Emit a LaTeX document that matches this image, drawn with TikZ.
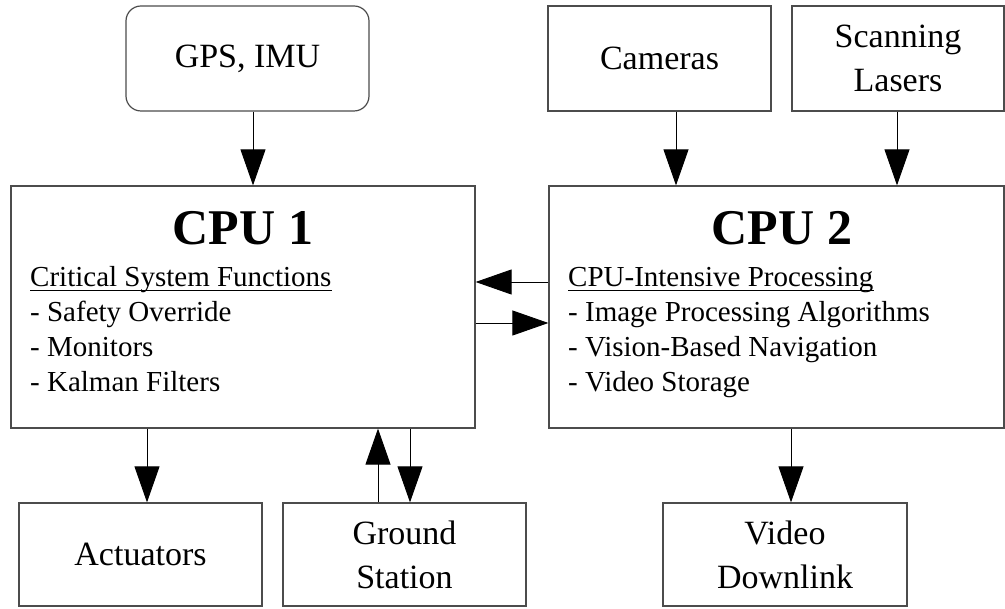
\documentclass[tikz,border=0pt]{standalone}
\usepackage{fontspec}
\setmainfont{Liberation Serif}
\usetikzlibrary{arrows.meta}
\begin{document}
\begin{tikzpicture}[x=1pt,y=-1pt,
  box/.style={draw=black!70,line width=1.2pt,inner sep=0pt,align=center,
    font=\fontsize{34}{44}\selectfont},
  txt/.style={inner sep=0pt,font=\fontsize{29}{35}\selectfont,anchor=base west},
  ttl/.style={inner sep=0pt,font=\fontsize{50}{60}\selectfont\bfseries,anchor=base},
  arr/.style={draw=black,line width=0.9pt,-{Triangle[length=36pt,width=25pt]}}]
\useasboundingbox (0,0) rectangle (1005,609);
% top row
\node[box,rounded corners=15pt,minimum width=243pt,minimum height=105pt] (gps) at (247.5,58.5) {GPS, IMU};
\node[box,minimum width=223pt,minimum height=105pt] (cam) at (659.5,58.5) {Cameras};
\node[box,minimum width=212pt,minimum height=105pt] (las) at (898,58.5) {Scanning\\Lasers};
% CPUs
\node[box,minimum width=464pt,minimum height=242pt] (cpu1) at (243,307) {};
\node[box,minimum width=455pt,minimum height=242pt] (cpu2) at (776.5,307) {};
\node[ttl] (t1) at (243,245) {CPU 1};
\node[txt] (c1h) at (30,287) {Critical System Functions};
\node[txt] (c1a) at (30,322) {- Safety Override};
\node[txt] (c1b) at (30,357) {- Monitors};
\node[txt] (c1c) at (30,392) {- Kalman Filters};
\node[ttl] (t2) at (782,245) {CPU 2};
\node[txt] (c2h) at (568,287) {CPU-Intensive Processing};
\node[txt] (c2a) at (568,322) {- Image Processing Algorithms};
\node[txt] (c2b) at (568,357) {- Vision-Based Navigation};
\node[txt] (c2c) at (568,392) {- Video Storage};
\draw[line width=0.8pt] ([yshift=-3pt]c1h.base west) -- ([yshift=-3pt]c1h.base east);
\draw[line width=0.8pt] ([yshift=-3pt]c2h.base west) -- ([yshift=-3pt]c2h.base east);
% bottom row
\node[box,minimum width=243pt,minimum height=103pt] (act) at (140.5,554.5) {Actuators};
\node[box,minimum width=243pt,minimum height=103pt] (gs) at (404.5,554.5) {Ground\\Station};
\node[box,minimum width=244pt,minimum height=103pt] (vid) at (785,554.5) {Video\\Downlink};
% connectors
\draw[arr] ([xshift=5.5pt]gps.south) -- ([xshift=5.5pt]gps.south |- cpu1.north);
\draw[arr] ([xshift=16.5pt]cam.south) -- ([xshift=16.5pt]cam.south |- cpu2.north);
\draw[arr] ([xshift=-1pt]las.south) -- ([xshift=-1pt]las.south |- cpu2.north);
\draw[arr] ([yshift=25pt]cpu2.west) -- ([yshift=25pt]cpu2.west -| cpu1.east);
\draw[arr] ([yshift=-16pt]cpu1.east) -- ([yshift=-16pt]cpu1.east -| cpu2.west);
\draw[arr] ([xshift=6.5pt]act.north |- cpu1.south) -- ([xshift=6.5pt]act.north);
\draw[arr] ([xshift=-26.5pt]gs.north) -- ([xshift=-26.5pt]gs.north |- cpu1.south);
\draw[arr] ([xshift=5.5pt]gs.north |- cpu1.south) -- ([xshift=5.5pt]gs.north);
\draw[arr] ([xshift=6pt]vid.north |- cpu2.south) -- ([xshift=6pt]vid.north);
\end{tikzpicture}
\end{document}
